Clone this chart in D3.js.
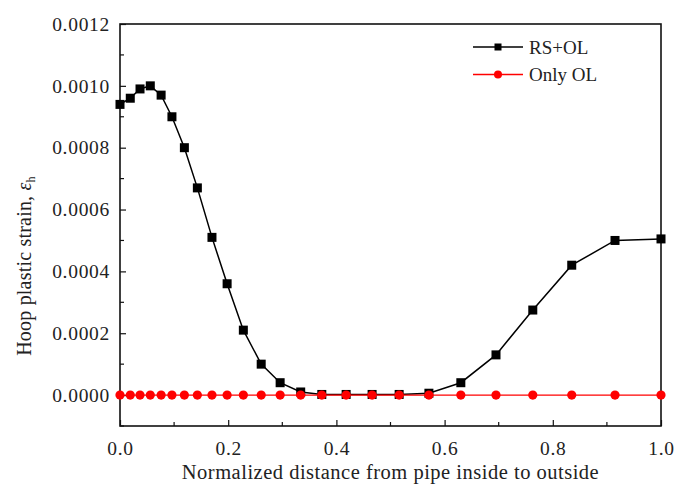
<!DOCTYPE html>
<html>
<head>
<meta charset="utf-8">
<script src="https://cdn.jsdelivr.net/npm/d3@7/dist/d3.min.js"></script>
<style>
  html, body { margin: 0; padding: 0; background: #fff; }
  svg { display: block; }
  svg text { font-family: "Liberation Serif", Tinos, "DejaVu Serif", serif; fill: #222; }
</style>
</head>
<body>
<svg id="chart" width="675" height="485"></svg>
<script>
// Normalized radial position through the pipe wall
const distance = [0, 0.019, 0.037, 0.056, 0.076, 0.096, 0.119, 0.143, 0.170, 0.198,
                  0.228, 0.261, 0.296, 0.334, 0.373, 0.418, 0.466, 0.516, 0.571, 0.630,
                  0.695, 0.763, 0.835, 0.915, 1.0];
// Hoop plastic strain, residual stress + operating load
const rsOl = [0.00094, 0.00096, 0.00099, 0.00100, 0.00097, 0.00090, 0.00080, 0.00067, 0.00051, 0.00036,
              0.00021, 0.00010, 0.00004, 0.00001, 0.000002, 0.000002, 0.000002, 0.000002, 0.000006, 0.00004,
              0.00013, 0.000275, 0.00042, 0.00050, 0.000505];
// Hoop plastic strain, operating load only
const onlyOl = [0, 0, 0, 0, 0, 0, 0, 0, 0, 0,
                0, 0, 0, 0, 0, 0, 0, 0, 0, 0,
                0, 0, 0, 0, 0];
const seriesNames = ["RS+OL", "Only OL"];
const xTicks = [0, 0.2, 0.4, 0.6, 0.8, 1.0];
const yTicks = [0, 0.0002, 0.0004, 0.0006, 0.0008, 0.0010, 0.0012];

const svg = d3.select("#chart");
const m = { left: 120, right: 14, top: 24, bottom: 59 };
const W = 675, H = 485;
const iw = W - m.left - m.right, ih = H - m.top - m.bottom;

const x = d3.scaleLinear().domain([0, 1]).range([m.left, m.left + iw]);
const y = d3.scaleLinear().domain([-0.0001, 0.0012]).range([m.top + ih, m.top]);

// Frame
svg.append("rect")
  .attr("x", m.left).attr("y", m.top).attr("width", iw).attr("height", ih)
  .attr("fill", "none").attr("stroke", "#111").attr("stroke-width", 1.6);

// Bottom axis, ticks pointing inward
const xMinor = d3.range(0.1, 1.0, 0.2);
const gx = svg.append("g").attr("transform", `translate(0,${m.top + ih})`);
gx.call(d3.axisBottom(x).tickValues(xTicks).tickSize(-6).tickPadding(15).tickFormat(d3.format(".1f")));
gx.selectAll(".minor").data(xMinor).enter().append("line")
  .attr("x1", d => x(d)).attr("x2", d => x(d)).attr("y1", 0).attr("y2", -4)
  .attr("stroke", "#111").attr("stroke-width", 1.2);

// Left axis, ticks pointing inward
const yMinor = [-0.0001, 0.0001, 0.0003, 0.0005, 0.0007, 0.0009, 0.0011];
const gy = svg.append("g").attr("transform", `translate(${m.left},0)`);
gy.call(d3.axisLeft(y).tickValues(yTicks).tickSize(-6).tickPadding(10).tickFormat(d3.format(".4f")));
gy.selectAll(".minor").data(yMinor).enter().append("line")
  .attr("y1", d => y(d)).attr("y2", d => y(d)).attr("x1", 0).attr("x2", 4)
  .attr("stroke", "#111").attr("stroke-width", 1.2);

[gx, gy].forEach(g => {
  g.attr("font-family", null).attr("font-size", null);
  g.select(".domain").remove();
  g.selectAll(".tick line").attr("stroke", "#111").attr("stroke-width", 1.2);
  g.selectAll(".tick text").style("font-size", "19.5px").style("letter-spacing", "0.7px").attr("fill", "#222");
});

// Axis titles
svg.append("text")
  .attr("x", x(0.5)).attr("y", 479)
  .attr("text-anchor", "middle").style("font-size", "20.5px").style("letter-spacing", "0.5px")
  .text("Normalized distance from pipe inside to outside");

const yl = svg.append("text")
  .attr("transform", `translate(31,266) rotate(-90)`)
  .attr("text-anchor", "middle").style("font-size", "20px").style("letter-spacing", "0.2px");
yl.append("tspan").text("Hoop plastic strain, ");
yl.append("tspan").attr("font-style", "italic").text("ε");
yl.append("tspan").style("font-size", "12px").attr("dy", 4).text("h");

// Series
const line = d3.line().x(d => x(d[0])).y(d => y(d[1]));
const rsData = distance.map((d, i) => [d, rsOl[i]]);
const olData = distance.map((d, i) => [d, onlyOl[i]]);

svg.append("path").datum(rsData).attr("d", line)
  .attr("fill", "none").attr("stroke", "#000").attr("stroke-width", 1.5);
svg.selectAll(".sq").data(rsData).enter().append("rect")
  .attr("x", d => x(d[0]) - 4.5).attr("y", d => y(d[1]) - 4.5)
  .attr("width", 9).attr("height", 9).attr("fill", "#000");

svg.append("path").datum(olData).attr("d", line)
  .attr("fill", "none").attr("stroke", "#ff0000").attr("stroke-width", 1.4);
svg.selectAll(".ci").data(olData).enter().append("circle")
  .attr("cx", d => x(d[0])).attr("cy", d => y(d[1])).attr("r", 4.6)
  .attr("fill", "#ff0000");

// Legend
const legend = svg.append("g");
const colors = ["#000", "#ff0000"];
seriesNames.forEach((name, i) => {
  const ly = 47 + i * 27.5;
  legend.append("line").attr("x1", 473).attr("x2", 523).attr("y1", ly).attr("y2", ly)
    .attr("stroke", colors[i]).attr("stroke-width", 1.5);
  if (i === 0) {
    legend.append("rect").attr("x", 498 - 3.5).attr("y", ly - 3.5).attr("width", 7).attr("height", 7).attr("fill", colors[i]);
  } else {
    legend.append("circle").attr("cx", 498).attr("cy", ly).attr("r", 4).attr("fill", colors[i]);
  }
  legend.append("text").attr("x", 529).attr("y", ly + 6.5).style("font-size", "19px").text(name);
});
</script>
</body>
</html>
